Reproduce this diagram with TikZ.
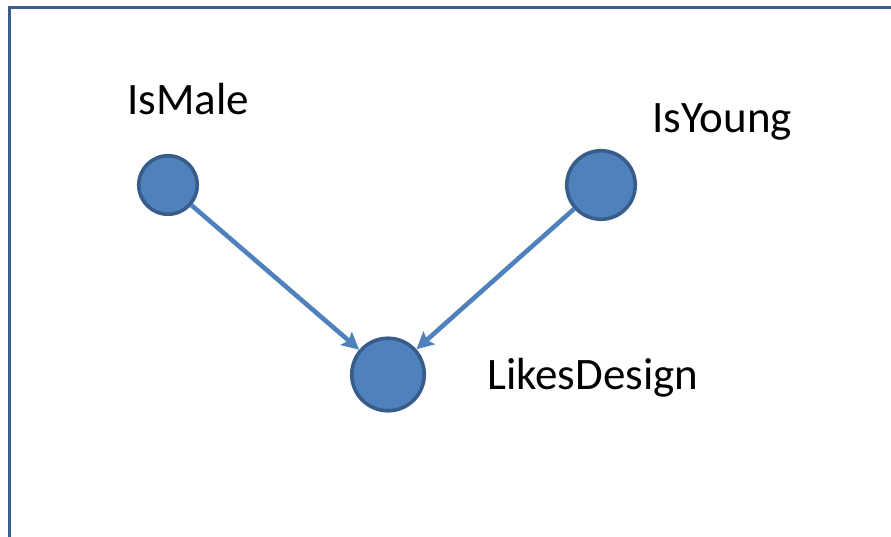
\documentclass[tikz,border=0pt]{standalone}
\usepackage{fontspec}
\setmainfont{Carlito}
\usetikzlibrary{arrows.meta}
\definecolor{nodefill}{RGB}{79,129,189}
\definecolor{nodeline}{RGB}{56,93,138}
\definecolor{framecol}{RGB}{59,94,140}
\tikzset{
  varnode/.style={circle, fill=nodefill, draw=nodeline, line width=3.6pt, inner sep=0pt},
  varlabel/.style={anchor=base west, inner sep=0pt, font=\fontsize{45}{54}\selectfont, text=black},
  edgearrow/.style={draw=nodefill, line width=4.6pt, -{Stealth[length=17pt,width=17pt,inset=3pt]}}
}
\begin{document}
\begin{tikzpicture}[x=1pt,y=-1pt]
\useasboundingbox (0,0) rectangle (891,537);
\fill[white] (0,0) rectangle (891,537);
\coordinate (fa) at (9.5,537);
\coordinate (fb) at (9.5,7.5);
\coordinate (fc) at (891,7.5);
\draw[framecol, line width=3.6pt] (fa) -- (fb) -- (fc);
\node[varnode, minimum size=58.5pt] (male) at (168,185) {};
\node[varnode, minimum size=68.5pt] (young) at (601,185) {};
\node[varnode, minimum size=72.5pt] (likes) at (388,374.5) {};
\node[varlabel] (lmale) at (127,115) {IsMale};
\node[varlabel] (lyoung) at (652,133) {IsYoung};
\node[varlabel] (llikes) at (487,389) {LikesDesign};
\draw[edgearrow] (male) -- (likes);
\draw[edgearrow] (young) -- (likes);
\end{tikzpicture}
\end{document}
